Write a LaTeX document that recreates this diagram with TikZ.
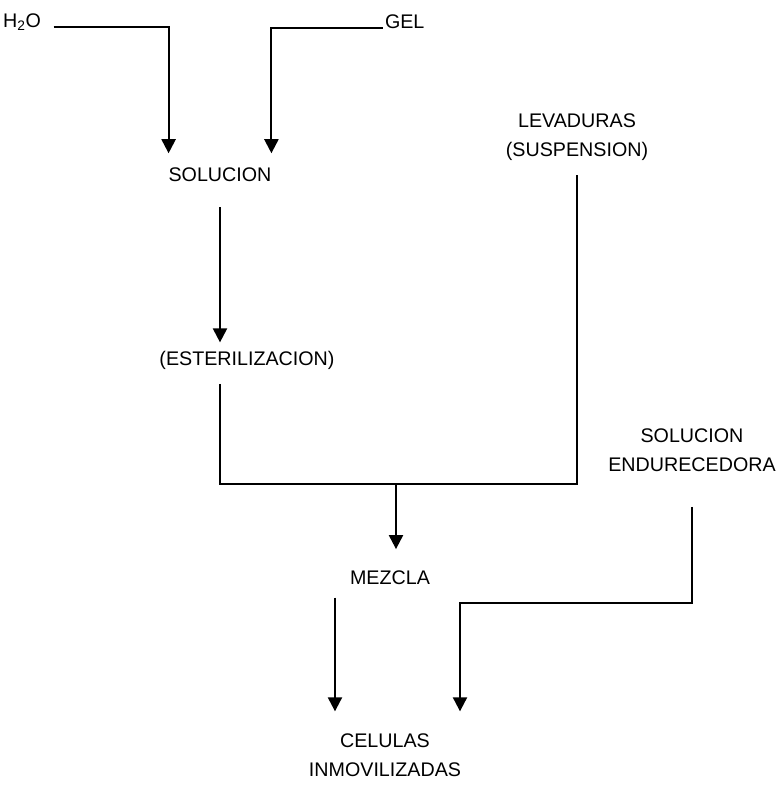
\documentclass[tikz,border=0pt]{standalone}
\usepackage{fontspec}
\setmainfont{Liberation Sans}
\usepackage{tikz}
\usetikzlibrary{calc,arrows.meta,positioning}
\tikzset{
    stage/.style={font=\fontsize{14}{21}\selectfont, align=center, inner sep=0pt, outer sep=0pt},
    flow/.style={draw, line width=1.5pt, -{Triangle[length=10pt,width=10pt]}},
    link/.style={draw, line width=1.5pt}
}
\begin{document}
\begin{tikzpicture}[x=0.025cm, y=-0.025cm]
    \useasboundingbox (0,0) rectangle (783,789);
    % Nodes
    \node[stage, anchor=base] (water) at (22,27) {H\textsubscript{2}O};
    \node[stage, anchor=base west] (gel) at (385,28) {GEL};
    \node[stage] (sol) at (220,175) {SOLUCION};
    \node[stage] (ester) at (247,360) {(ESTERILIZACION)};
    \node[stage] (yeast) at (577,137) {LEVADURAS\\(SUSPENSION)};
    \node[stage] (hard) at (692,450) {SOLUCION\\ENDURECEDORA};
    \node[stage] (mix) at (390,578) {MEZCLA};
    \node[stage] (cells) at (385,755) {CELULAS\\INMOVILIZADAS};
    \coordinate (join) at (396,484);
    \coordinate (turn) at (460,603);

    % edges
    \draw[flow, shorten <=9pt, shorten >=10.5pt] (water.base east) -| (sol.north west);
    \draw[flow, shorten <=1.5pt, shorten >=10.5pt] (gel.base west) -| (sol.north east);
    \draw[flow, shorten <=18pt, shorten >=6pt] (sol.south) -- (sol.south |- ester.north);
    \draw[link, shorten <=10.5pt, shorten >=10.5pt] (sol.south |- ester.south) |- (join) -| (yeast.south);
    \draw[flow, shorten >=15.6pt] (join) -- (join |- mix.north);
    \draw[flow, shorten <=9pt, shorten >=15.6pt] ([xshift=-1.375cm]mix.south) -- ([xshift=-1.375cm]mix.south |- cells.north);
    \draw[flow, shorten <=25pt, shorten >=15.6pt] (hard.south) |- (turn) -- (turn |- cells.north);
\end{tikzpicture}
\end{document}
